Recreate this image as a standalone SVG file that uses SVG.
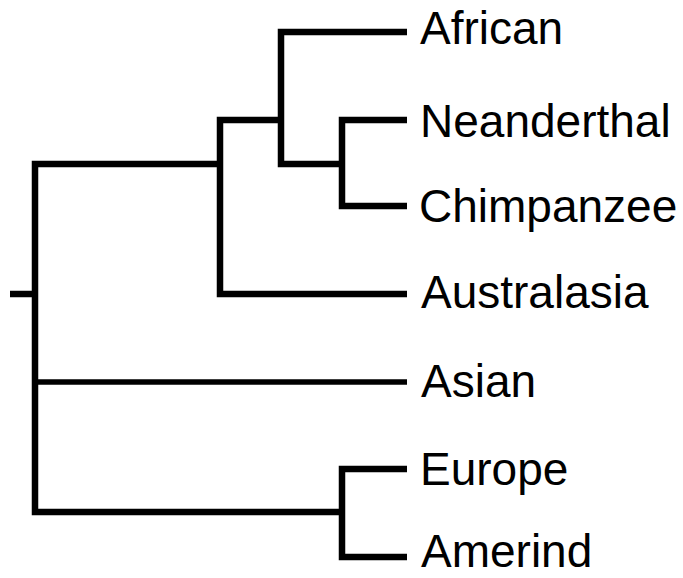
<svg xmlns="http://www.w3.org/2000/svg" width="683" height="578" viewBox="0 0 683 578">
<style>
.br{fill:none;stroke:#000;stroke-width:6.5;stroke-linejoin:miter;stroke-linecap:butt}
.thin{stroke-width:5.5}
.lb{font-family:"Liberation Sans",Arial,sans-serif;font-size:46px;fill:#000}
</style>
<rect width="683" height="578" fill="#fff"/>
<g id="connectors">
<path class="br" d="M10,294H35"/>
<path class="br" d="M407,32H281V164H342"/>
<path class="br" d="M407,120H342V206H407"/>
<path class="br" d="M281,120H220V294H407"/>
<path class="br" d="M220,164H35V512H342"/>
<path class="br thin" d="M35,382H407"/>
<path class="br" d="M407,469H342V557H407"/>
</g>
<g id="african"><text class="lb" x="420" y="44">African</text></g>
<g id="neanderthal"><text class="lb" x="420" y="137">Neanderthal</text></g>
<g id="chimpanzee"><text class="lb" x="419" y="222">Chimpanzee</text></g>
<g id="australasia"><text class="lb" x="421" y="308">Australasia</text></g>
<g id="asian"><text class="lb" x="421" y="397">Asian</text></g>
<g id="europe"><text class="lb" x="420" y="485">Europe</text></g>
<g id="amerind"><text class="lb" x="421" y="567">Amerind</text></g>
</svg>
